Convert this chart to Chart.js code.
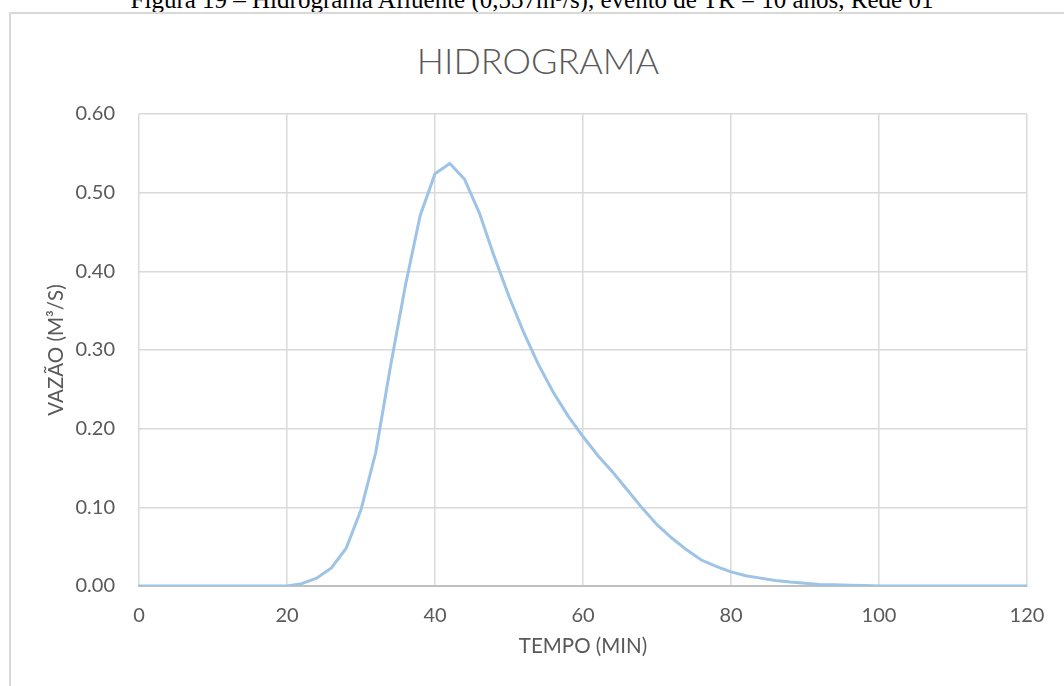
<!DOCTYPE html>
<html>
<head>
<meta charset="utf-8">
<script src="https://cdn.jsdelivr.net/npm/chart.js@4/dist/chart.umd.min.js"></script>
<style>
  html, body { margin: 0; padding: 0; background: #fff; overflow: hidden; }
  #caption {
    position: absolute; left: 0; width: 1064px; top: -13px;
    text-align: center; font-family: "Liberation Serif", serif; font-size: 25px;
    line-height: 25px; color: #000; white-space: nowrap;
  }
  #frame {
    position: absolute; left: 9px; top: 12px; width: 1200px; height: 800px;
    border: 2px solid #d9d9d9;
  }
  #title {
    position: absolute; left: 12px; width: 1052px; top: 39px; text-align: center;
    font-family: Lato, sans-serif; font-weight: 300; font-size: 36px; line-height: 42px;
    color: #595959;
  }
  #chart { position: absolute; left: 0; top: 0; }
</style>
</head>
<body>
<div id="caption">Figura 19 – Hidrograma Afluente (0,537m³/s), evento de TR = 10 anos, Rede 01</div>
<div id="frame"></div>
<div id="title">HIDROGRAMA</div>
<canvas id="chart" width="1064" height="686"></canvas>
<script>
// tempo (min), every 2 minutes
const tempo = [0, 2, 4, 6, 8, 10, 12, 14, 16, 18, 20, 22, 24, 26, 28, 30, 32, 34, 36, 38,
  40, 42, 44, 46, 48, 50, 52, 54, 56, 58, 60, 62, 64, 66, 68, 70, 72, 74, 76, 78,
  80, 82, 84, 86, 88, 90, 92, 94, 96, 98, 100, 102, 104, 106, 108, 110, 112, 114, 116, 118, 120];

// vazao (m3/s)
const vazao = [0, 0, 0, 0, 0, 0, 0, 0, 0, 0, 0, 0.003, 0.010, 0.023, 0.048, 0.097, 0.170, 0.280, 0.382, 0.471,
  0.524, 0.537, 0.517, 0.474, 0.419, 0.368, 0.322, 0.281, 0.246, 0.216, 0.190, 0.166, 0.145, 0.122, 0.099, 0.078, 0.061, 0.046, 0.033, 0.025,
  0.018, 0.013, 0.010, 0.007, 0.005, 0.0035, 0.002, 0.0015, 0.001, 0.0005, 0, 0, 0, 0, 0, 0, 0, 0, 0, 0, 0];

const xTicks = [0, 20, 40, 60, 80, 100, 120];
const yTicks = [0, 0.1, 0.2, 0.3, 0.4, 0.5, 0.6];

const points = tempo.map((t, i) => ({ x: t, y: vazao[i] }));
const gray = '#595959';
const tickFont = { family: 'Lato', size: 20 };
const titleFont = { family: 'Lato', size: 20.5 };

new Chart(document.getElementById('chart').getContext('2d'), {
  type: 'line',
  data: {
    datasets: [{
      label: 'Vazão',
      data: points,
      borderColor: '#9dc3e6',
      borderWidth: 3,
      pointRadius: 0,
      tension: 0,
      fill: false
    }]
  },
  options: {
    responsive: false,
    animation: false,
    devicePixelRatio: 1,
    layout: { padding: { left: 0, right: 37, top: 114, bottom: 0 } },
    plugins: {
      legend: { display: false },
      tooltip: { enabled: false },
      title: { display: false }
    },
    scales: {
      x: {
        type: 'linear',
        min: 0,
        max: 120,
        afterBuildTicks: (s) => { s.ticks = xTicks.map(v => ({ value: v })); },
        afterFit: (s) => { s.height = 100; },
        ticks: { color: gray, font: tickFont, padding: 17.5, maxRotation: 0 },
        grid: { color: '#d9d9d9', lineWidth: 1.5, drawTicks: false },
        border: { color: '#bfbfbf', width: 2 },
        title: { display: true, text: 'TEMPO (MIN)', color: gray, font: titleFont, padding: { top: 0, bottom: 27.5 } }
      },
      y: {
        min: 0,
        max: 0.6,
        afterBuildTicks: (s) => { s.ticks = yTicks.map(v => ({ value: v })); },
        afterFit: (s) => { s.width = 139; },
        ticks: { color: gray, font: tickFont, padding: 24, callback: (v) => v.toFixed(2) },
        grid: { color: '#d9d9d9', lineWidth: 1.5, drawTicks: false },
        border: { display: false },
        title: { display: true, text: 'VAZÃO (M³/S)', color: gray, font: titleFont, padding: { top: 43.7, bottom: 0 } }
      }
    }
  }
});
</script>
</body>
</html>
